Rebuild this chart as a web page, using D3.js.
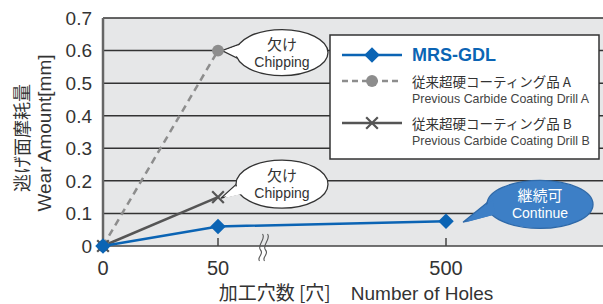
<!DOCTYPE html>
<html>
<head>
<meta charset="utf-8">
<style>
body { margin: 0; background: #fff; }
svg { display: block; }
text { font-family: "Liberation Sans", Arial, sans-serif; fill: #333; }
.jp { font-family: "Noto Sans CJK JP", sans-serif; }
.grid line { stroke: #333; stroke-width: 1.5px; }
</style>
<script src="https://d3js.org/d3.v7.min.js"></script>
</head>
<body>
<script>
// data
var holes = [0, 50, 500];
var xTickLabels = ["0", "50", "500"];
var yTicks = [0, 0.1, 0.2, 0.3, 0.4, 0.5, 0.6, 0.7];
var mrsGdl = [0, 0.06, 0.076];
var drillAHoles = [0, 50];
var drillA = [0, 0.6];
var drillBHoles = [0, 50];
var drillB = [0, 0.15];

var blue = "#0b64b4", grayA = "#8d8d8d", grayB = "#555";

var margin = {top: 18, right: 0, bottom: 58, left: 103},
    W = 603, H = 304,
    width = W - margin.left - margin.right,
    height = H - margin.top - margin.bottom;

var svg = d3.select("body").append("svg")
    .attr("width", W).attr("height", H);

var g = svg.append("g")
    .attr("transform", "translate(" + margin.left + "," + margin.top + ")");

// broken x axis: 0 -> 50 -> (break) -> 500
var x = d3.scaleLinear().domain([0, 50, 500]).range([0, 115, 343]);
var y = d3.scaleLinear().domain([0, 0.7]).range([height, 0]);

g.append("rect").attr("width", width).attr("height", height).attr("fill", "#e6e7e8");

// gridlines
g.append("g").attr("class", "grid")
    .selectAll("line").data(yTicks.slice(1)).enter().append("line")
    .attr("x1", 0).attr("x2", width)
    .attr("y1", function(d) { return y(d); })
    .attr("y2", function(d) { return y(d); });

// axes
g.append("line").attr("x1", 0).attr("x2", width).attr("y1", height).attr("y2", height)
    .attr("stroke", "#444").attr("stroke-width", 1.5);
g.append("line").attr("x1", 0).attr("x2", 0).attr("y1", 0).attr("y2", height)
    .attr("stroke", "#666").attr("stroke-width", 2.5);

g.selectAll(".xtick").data(holes.slice(1)).enter().append("line")
    .attr("x1", function(d) { return x(d); }).attr("x2", function(d) { return x(d); })
    .attr("y1", height).attr("y2", height - 8)
    .attr("stroke", "#444").attr("stroke-width", 1.5);

// y tick labels
g.selectAll(".ylab").data(yTicks).enter().append("text")
    .attr("x", -11).attr("y", function(d) { return y(d); })
    .attr("dy", "0.36em").attr("text-anchor", "end")
    .attr("font-size", 19)
    .text(function(d) { return d === 0 ? "0" : d.toFixed(1); });

// x tick labels
g.selectAll(".xlab").data(holes).enter().append("text")
    .attr("x", function(d) { return x(d); }).attr("y", height + 29)
    .attr("text-anchor", "middle").attr("font-size", 20)
    .text(function(d, i) { return xTickLabels[i]; });

// axis break mark
var bx = x(50) + 45;
[-2.5, 2.5].forEach(function(o) {
    g.append("path")
        .attr("d", "M" + (bx + o + 2) + "," + (height - 12) +
            " C" + (bx + o + 6) + "," + (height - 7) + " " + (bx + o - 4) + "," + (height - 1) + " " + (bx + o) + "," + (height + 4) +
            " C" + (bx + o + 4) + "," + (height + 8) + " " + (bx + o - 4) + "," + (height + 11) + " " + (bx + o - 1) + "," + (height + 15))
        .attr("fill", "none").attr("stroke", "#555").attr("stroke-width", 1.1);
});

// axis titles
svg.append("text").attr("class", "jp")
    .attr("transform", "translate(29,138) rotate(-90)")
    .attr("text-anchor", "middle")
    .attr("font-size", 18).text("逃げ面摩耗量");
svg.append("text")
    .attr("transform", "translate(51,133) rotate(-90)")
    .attr("text-anchor", "middle")
    .attr("font-size", 19).text("Wear Amount[mm]");
var xt = svg.append("text").attr("x", 356).attr("y", 300).attr("text-anchor", "middle").attr("font-size", 19);
xt.append("tspan").attr("class", "jp").text("加工穴数 [穴]");
xt.append("tspan").attr("dx", 20).text("Number of Holes");

// callouts
function callout(cx, cy, rx, ry, tail, fill, stroke, l1, l2, tc) {
    var c = g.append("g");
    var tp = tail.map(function(p) { return p.join(","); }).join(" ");
    c.append("polygon").attr("points", tp).attr("fill", fill).attr("stroke", stroke).attr("stroke-width", 1.3);
    c.append("ellipse").attr("cx", cx).attr("cy", cy).attr("rx", rx).attr("ry", ry)
        .attr("fill", fill).attr("stroke", stroke).attr("stroke-width", 1.3);
    c.append("polygon").attr("fill", fill)
        .attr("points", [tail[0], [tail[1][0] + 2, tail[1][1]], tail[2]].map(function(p, i) {
            return i === 1 ? p.join(",") : [p[0] + 3, p[1]].join(",");
        }).join(" "));
    c.append("text").attr("class", "jp").attr("x", cx).attr("y", cy - 3)
        .attr("text-anchor", "middle").attr("font-size", 15).style("fill", tc).text(l1);
    c.append("text").attr("x", cx).attr("y", cy + 14)
        .attr("text-anchor", "middle").attr("font-size", 14).style("fill", tc).text(l2);
}

// legend box (drawn before callouts so the first bubble can touch it)
var lg = svg.append("g");
lg.append("rect").attr("x", 330).attr("y", 35).attr("width", 269).attr("height", 124)
    .attr("fill", "#fff").attr("stroke", "#333").attr("stroke-width", 1.5);

callout(x(50) + 64, y(0.6) + 2, 46, 23,
    [[x(50) + 4, y(0.6)], [x(50) + 26, y(0.6) - 8], [x(50) + 24, y(0.6) + 10]],
    "#fff", "#333", "欠け", "Chipping", "#333");
callout(x(50) + 64, y(0.15) - 13, 46, 24,
    [[x(50) + 3, y(0.15) + 1], [x(50) + 24, y(0.15) - 18], [x(50) + 28, y(0.15) - 5]],
    "#fff", "#333", "欠け", "Chipping", "#333");
callout(x(500) + 94, y(0.1) - 9, 53, 24,
    [[x(500) + 17, y(0.076) + 1], [x(500) + 45, y(0.1) - 14], [x(500) + 46, y(0.1) + 1]],
    "#3d7fc6", "#2f69a8", "継続可", "Continue", "#fff");

// series
var line = d3.line().x(function(d) { return x(d[0]); }).y(function(d) { return y(d[1]); });
var dataA = d3.zip(drillAHoles, drillA),
    dataB = d3.zip(drillBHoles, drillB),
    dataM = d3.zip(holes, mrsGdl);

g.append("path").datum(dataA).attr("d", line).attr("fill", "none")
    .attr("stroke", grayA).attr("stroke-width", 2.5).attr("stroke-dasharray", "7,5");
g.append("path").datum(dataB).attr("d", line).attr("fill", "none")
    .attr("stroke", grayB).attr("stroke-width", 2.5);
g.append("path").datum(dataM).attr("d", line).attr("fill", "none")
    .attr("stroke", blue).attr("stroke-width", 2.5);

var circ = d3.symbol().type(d3.symbolCircle).size(110);
var cross = d3.symbol().type(d3.symbolX).size(90);
var diam = d3.symbol().type(d3.symbolSquare).size(120);

g.selectAll(".ma").data(dataA).enter().append("path")
    .attr("d", circ).attr("fill", grayA)
    .attr("transform", function(d) { return "translate(" + x(d[0]) + "," + y(d[1]) + ")"; });
g.selectAll(".mb").data(dataB).enter().append("path")
    .attr("d", cross).attr("fill", "none").attr("stroke", grayB).attr("stroke-width", 2.2)
    .attr("transform", function(d) { return "translate(" + x(d[0]) + "," + y(d[1]) + ")"; });
g.selectAll(".mm").data(dataM).enter().append("path")
    .attr("d", diam).attr("fill", blue)
    .attr("transform", function(d) { return "translate(" + x(d[0]) + "," + y(d[1]) + ") rotate(45)"; });

// legend contents
var lx1 = 342, lx2 = 402, lxm = 372;
lg.append("line").attr("x1", lx1).attr("x2", lx2).attr("y1", 55).attr("y2", 55)
    .attr("stroke", blue).attr("stroke-width", 2.5);
lg.append("path").attr("d", diam).attr("fill", blue)
    .attr("transform", "translate(" + lxm + ",55) rotate(45)");
lg.append("text").attr("x", 412).attr("y", 61).attr("font-size", 18).attr("font-weight", "bold")
    .style("fill", blue).text("MRS-GDL");

lg.append("line").attr("x1", lx1).attr("x2", lx2).attr("y1", 81).attr("y2", 81)
    .attr("stroke", grayA).attr("stroke-width", 2.5).attr("stroke-dasharray", "6,4");
lg.append("path").attr("d", circ).attr("fill", grayA).attr("transform", "translate(" + lxm + ",81)");
lg.append("text").attr("class", "jp").attr("x", 412).attr("y", 87).attr("font-size", 13.5)
    .text("従来超硬コーティング品 A");
lg.append("text").attr("x", 412).attr("y", 103).attr("font-size", 12.4)
    .style("fill", "#444").text("Previous Carbide Coating Drill A");

lg.append("line").attr("x1", lx1).attr("x2", lx2).attr("y1", 123).attr("y2", 123)
    .attr("stroke", grayB).attr("stroke-width", 2.5);
lg.append("path").attr("d", cross).attr("fill", "none").attr("stroke", grayB).attr("stroke-width", 2.2)
    .attr("transform", "translate(" + lxm + ",123)");
lg.append("text").attr("class", "jp").attr("x", 412).attr("y", 129).attr("font-size", 13.5)
    .text("従来超硬コーティング品 B");
lg.append("text").attr("x", 412).attr("y", 145).attr("font-size", 12.4)
    .style("fill", "#444").text("Previous Carbide Coating Drill B");
</script>
</body>
</html>
